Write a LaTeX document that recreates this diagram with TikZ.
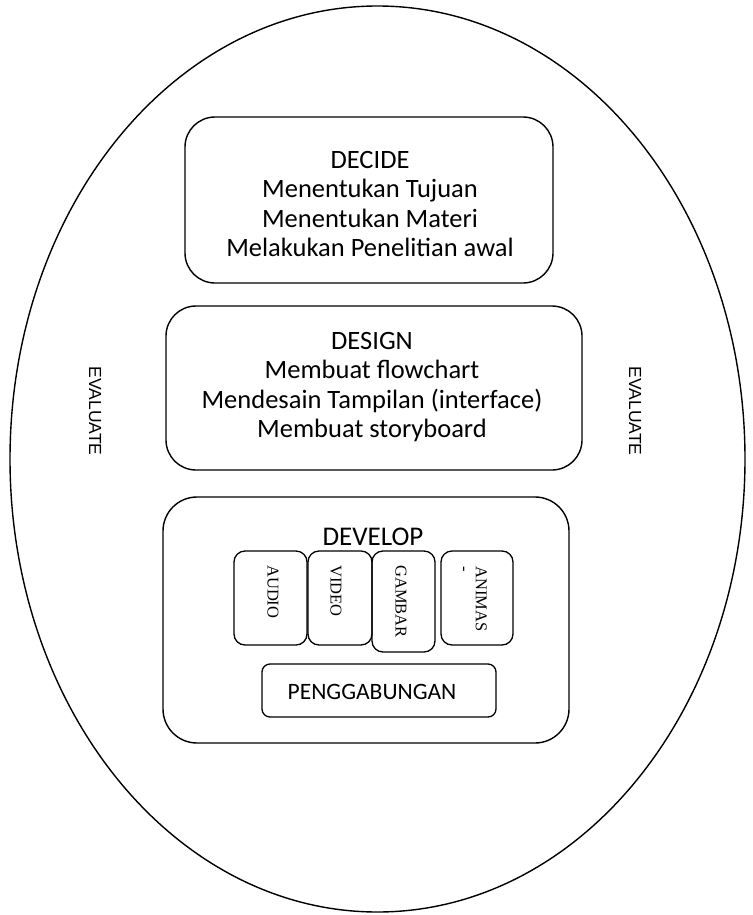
\documentclass[tikz,border=0pt]{standalone}
\usepackage{fontspec}
\setmainfont{Carlito}
\newfontfamily\arialf{Liberation Sans}
\newfontfamily\timesf{Liberation Serif}
\begin{document}
\begin{tikzpicture}[x=1pt,y=-1pt,
  bigbox/.style={draw, line width=1.4pt, rounded corners=30pt},
  smallbox/.style={draw, line width=1.3pt, rounded corners=11pt},
  maintext/.style={align=center, font=\fontsize{26.5}{29.3}\selectfont, inner sep=0pt},
  evaltext/.style={rotate=-90, font=\arialf\fontsize{17.5}{19}\selectfont, inner sep=0pt},
  mediatext/.style={rotate=-90, anchor=west, font=\timesf\fontsize{16.5}{16}\selectfont, inner sep=0pt, align=left}
]
\useasboundingbox (0,0) rectangle (752,915);
% outer ellipse
\draw[line width=1.4pt] (377.5,459) ellipse [x radius=367.5, y radius=453];
% DECIDE
\draw[bigbox] (185,117) rectangle (553,283);
\node[maintext] (decide) at (370,204) {DECIDE\\Menentukan Tujuan\\Menentukan Materi\\Melakukan Penelitian awal};
% DESIGN
\draw[bigbox] (166,306) rectangle (582,470);
\node[maintext] (design) at (372,387) {DESIGN\\Membuat flowchart\\Mendesain Tampilan (interface)\\Membuat storyboard};
% DEVELOP
\draw[bigbox, rounded corners=34pt] (163,497) rectangle (569,743);
\node[maintext, font=\fontsize{27}{30}\selectfont] (develop) at (373,537) {DEVELOP};
% media boxes
\draw[smallbox] (234,551) rectangle (307,645);
\draw[smallbox] (308,551) rectangle (372,645);
\draw[smallbox] (372,551) rectangle (435,652);
\draw[smallbox] (441,551) rectangle (513,645);
\node[mediatext] (audio) at (273,565) {AUDIO};
\node[mediatext] (video) at (336,565) {VIDEO};
\node[mediatext] (gambar) at (401,565) {GAMBAR};
\node[mediatext, anchor=north west] (animas) at (487,566) {ANIMAS\\-};
% PENGGABUNGAN
\draw[smallbox, rounded corners=8pt] (262,664) rectangle (496,717);
\node[maintext, font=\fontsize{23.5}{28}\selectfont] (gabung) at (372,692) {PENGGABUNGAN};
% EVALUATE labels
\node[evaltext] (evl) at (95,411) {EVALUATE};
\node[evaltext] (evr) at (635,411) {EVALUATE};
\end{tikzpicture}
\end{document}
